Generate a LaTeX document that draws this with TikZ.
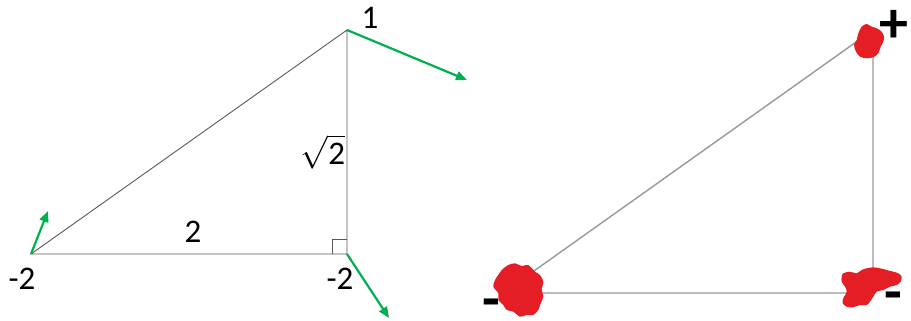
\documentclass[tikz,border=0pt]{standalone}
\usepackage{amsmath}
\usepackage{unicode-math}
\setmainfont{Carlito}
\usetikzlibrary{arrows.meta}
\definecolor{pgreen}{RGB}{0,176,80}
\definecolor{pred}{RGB}{228,30,36}

\begin{document}
\begin{tikzpicture}[x=1pt,y=-1pt,
  edgeL/.style={black!65, line width=0.9pt},
  edgeR/.style={black!40, line width=1.4pt},
  grad/.style={-{Triangle[length=11pt,width=9pt]}, pgreen, line width=2.2pt},
  val/.style={font=\fontsize{33}{36}\selectfont, inner sep=0pt},
  sgn/.style={font=\fontsize{58}{58}\selectfont\bfseries, inner sep=0pt}]
\useasboundingbox (0,0) rectangle (911,321);
% Left triangle
\coordinate (A) at (31,254);
\coordinate (B) at (347,254);
\coordinate (C) at (347,30);
\draw[edgeL] (A) -- (B) -- (C) -- cycle;
\draw[edgeL, line width=0.7pt] (B) ++(-15,0) -- ++(0,-15) -- ++(15,0);
% gradient arrows
\coordinate (gA) at (48,211);
\coordinate (gB) at (389,318);
\coordinate (gC) at (467,80);
\foreach \v in {A,B,C} {
  \draw[grad] (\v) -- (g\v);
}
% values and side lengths
\node[val] (vC) at (370,18) {1};
\node[val] (vA) at (22,279) {-2};
\node[val] (vB) at (340,279) {-2};
\node[val] (lAB) at (193,232) {2};
\node[val] (lBC) at (323,152) {$\sqrt{\text{2}}$};
% Right triangle
\coordinate (D) at (503,293);
\coordinate (E) at (873,293);
\coordinate (F) at (873,30);
\draw[edgeR] (D) -- (E) -- (F) -- cycle;
% red blobs
\fill[pred] plot[smooth cycle] coordinates {(508.3,265) (515,263.3) (521.7,266) (528.3,265) (535,271.7) (540,275) (543.3,281.7) (541.7,290) (543.3,296.7) (540,305) (538.3,310) (533.3,315) (526.7,315) (520,316.7) (513.3,311.7) (506.7,310) (503.3,305) (498.3,300) (498.3,293.3) (493.3,286.7) (495,280) (498.3,275) (501.7,270)};
\fill[pred] plot[smooth cycle] coordinates {(843.3,273.3) (850,271.7) (856.7,273.3) (861.7,270) (866.7,268.3) (873.3,267.3) (880,268.3) (886.7,270) (893.3,271.7) (898.3,273.3) (901.7,276.7) (900.7,281.7) (896.7,285) (890,286.7) (883.3,290) (876.7,291.7) (873.3,296.7) (870,301.7) (866.7,305) (860,305) (853.3,307.3) (846.7,306.7) (842.7,303.3) (843.3,298.3) (846.7,291.7) (845,286.7) (841.7,281.7) (841.7,276.7)};
\fill[pred] plot[smooth cycle] coordinates {(861.7,26.7) (866.7,24) (871.7,26.7) (876.7,28.3) (881.7,31.7) (884,36.7) (883.3,41.7) (880.7,46.7) (878.3,53.3) (873.3,57.3) (866.7,58.3) (860,56.7) (856,51.7) (854,45) (856.7,40) (858.3,33.3)};
% signs
\node[sgn] (sF) at (894,26) {+};
\node[sgn] (sD) at (491,309) {-};
\node[sgn] (sE) at (893,302) {-};
\end{tikzpicture}
\end{document}
